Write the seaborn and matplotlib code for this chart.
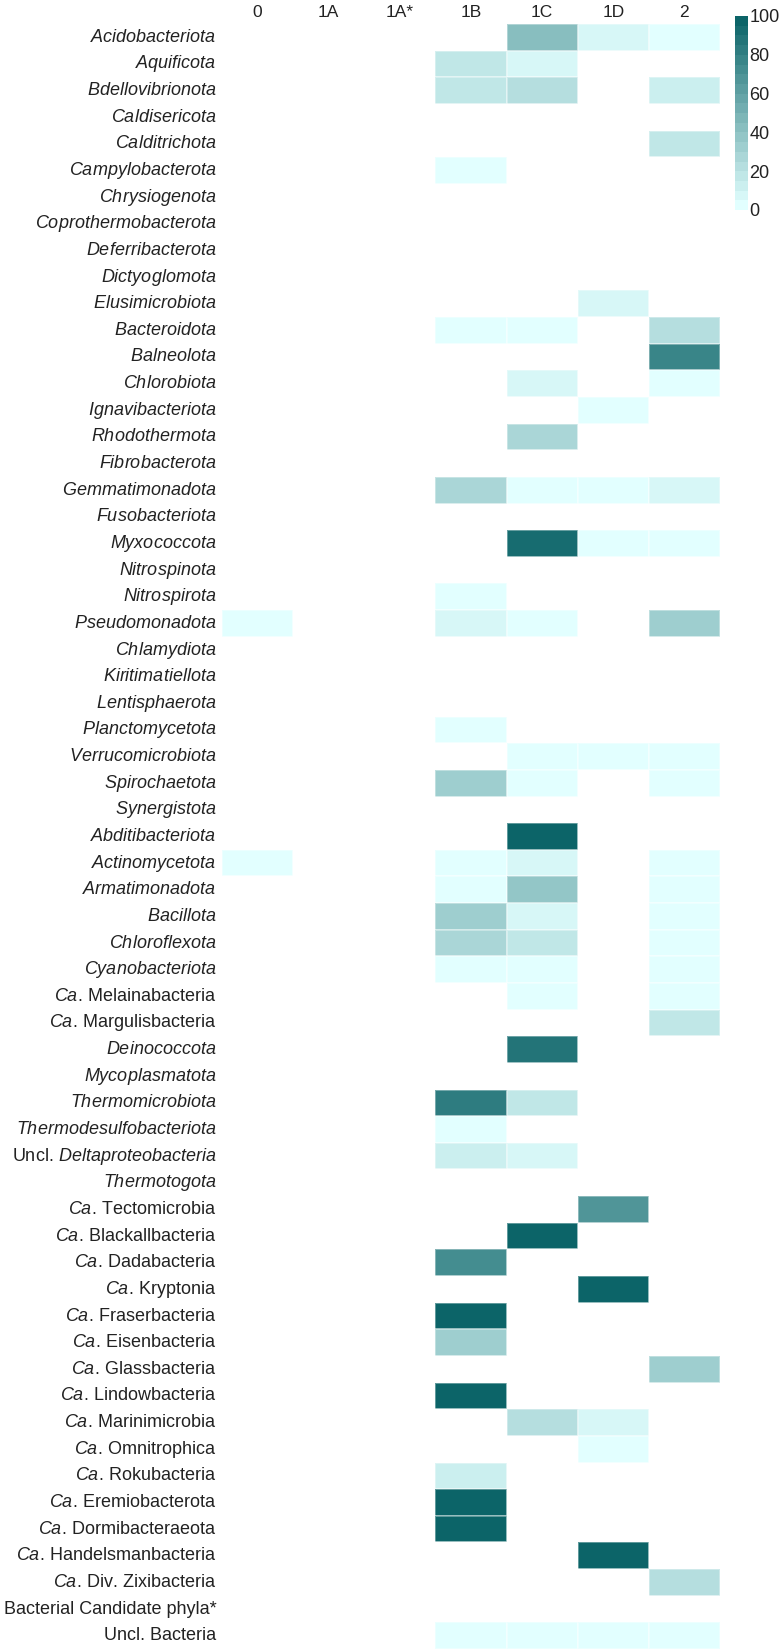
import re
import numpy as np
import pandas as pd
import matplotlib
matplotlib.use('Agg')
import matplotlib.pyplot as plt
from matplotlib.colors import LinearSegmentedColormap
import seaborn as sns

sns.set_style('white')
plt.rcParams['font.family'] = ['Liberation Sans', 'DejaVu Sans']
plt.rcParams['mathtext.fontset'] = 'custom'
plt.rcParams['mathtext.rm'] = 'Liberation Sans'
plt.rcParams['mathtext.it'] = 'Liberation Sans:italic'

# Phyla (rows); *...* marks the italic part of a name
phyla = [
    '*Acidobacteriota*', '*Aquificota*', '*Bdellovibrionota*', '*Caldisericota*',
    '*Calditrichota*', '*Campylobacterota*', '*Chrysiogenota*', '*Coprothermobacterota*',
    '*Deferribacterota*', '*Dictyoglomota*', '*Elusimicrobiota*', '*Bacteroidota*',
    '*Balneolota*', '*Chlorobiota*', '*Ignavibacteriota*', '*Rhodothermota*',
    '*Fibrobacterota*', '*Gemmatimonadota*', '*Fusobacteriota*', '*Myxococcota*',
    '*Nitrospinota*', '*Nitrospirota*', '*Pseudomonadota*', '*Chlamydiota*',
    '*Kiritimatiellota*', '*Lentisphaerota*', '*Planctomycetota*', '*Verrucomicrobiota*',
    '*Spirochaetota*', '*Synergistota*', '*Abditibacteriota*', '*Actinomycetota*',
    '*Armatimonadota*', '*Bacillota*', '*Chloroflexota*', '*Cyanobacteriota*',
    '*Ca*. Melainabacteria', '*Ca*. Margulisbacteria', '*Deinococcota*', '*Mycoplasmatota*',
    '*Thermomicrobiota*', '*Thermodesulfobacteriota*', 'Uncl. *Deltaproteobacteria*', '*Thermotogota*',
    '*Ca*. Tectomicrobia', '*Ca*. Blackallbacteria', '*Ca*. Dadabacteria', '*Ca*. Kryptonia',
    '*Ca*. Fraserbacteria', '*Ca*. Eisenbacteria', '*Ca*. Glassbacteria', '*Ca*. Lindowbacteria',
    '*Ca*. Marinimicrobia', '*Ca*. Omnitrophica', '*Ca*. Rokubacteria', '*Ca*. Eremiobacterota',
    '*Ca*. Dormibacteraeota', '*Ca*. Handelsmanbacteria', '*Ca*. Div. Zixibacteria',
    'Bacterial Candidate phyla*', 'Uncl. Bacteria',
]

groups = ['0', '1A', '1A*', '1B', '1C', '1D', '2']

# percentage per group, one value per phylum (0 = not present)
g0 = [0]*22 + [2] + [0]*8 + [2] + [0]*29
g1A = [0]*61
g1Astar = [0]*61
g1B = [0, 18, 18, 0, 0, 2, 0, 0, 0, 0,
       0, 2, 0, 0, 0, 0, 0, 27, 0, 0,
       0, 2, 8, 0, 0, 0, 2, 0, 33, 0,
       0, 2, 2, 33, 28, 2, 0, 0, 0, 0,
       83, 2, 12, 0, 0, 0, 73, 0, 100, 33,
       0, 100, 0, 0, 12, 100, 100, 0, 0, 0,
       2]
g1C = [40, 8, 22, 0, 0, 0, 0, 0, 0, 0,
       0, 2, 0, 8, 0, 27, 0, 2, 0, 90,
       0, 0, 2, 0, 0, 0, 0, 2, 2, 0,
       100, 8, 37, 8, 18, 2, 2, 0, 88, 0,
       18, 0, 8, 0, 0, 98, 0, 0, 0, 0,
       0, 0, 22, 0, 0, 0, 0, 0, 0, 0,
       2]
g1D = [8, 0, 0, 0, 0, 0, 0, 0, 0, 0,
       8, 0, 0, 0, 3, 0, 0, 2, 0, 2,
       0, 0, 0, 0, 0, 0, 0, 2, 0, 0,
       0, 0, 0, 0, 0, 0, 0, 0, 0, 0,
       0, 0, 0, 0, 68, 0, 0, 98, 0, 0,
       0, 0, 8, 2, 0, 0, 0, 100, 0, 0,
       2]
g2 = [2, 0, 12, 0, 18, 0, 0, 0, 0, 0,
      0, 22, 77, 3, 0, 0, 0, 8, 0, 2,
      0, 0, 33, 0, 0, 0, 0, 2, 2, 0,
      0, 2, 2, 2, 2, 2, 2, 18, 0, 0,
      0, 0, 0, 0, 0, 0, 0, 0, 0, 0,
      33, 0, 0, 0, 0, 0, 0, 0, 22, 0,
      2]


def to_mathtext(name):
    # turn *italic* parts into mathtext italics
    return re.sub(r'\*([^*]+)\*', lambda m: r'$\mathit{' + m.group(1).replace(' ', r'\ ') + '}$', name)


labels = [to_mathtext(p) if p.count('*') >= 2 else p for p in phyla]
df = pd.DataFrame(dict(zip(groups, [g0, g1A, g1Astar, g1B, g1C, g1D, g2])), index=labels, dtype=float)

cmap = LinearSegmentedColormap.from_list('teal', ['#e2ffff', '#0c6468'], N=20)

fig = plt.figure(figsize=(7.8, 16.52), dpi=100)
ax = fig.add_axes([222/780, 1 - 1649/1652, (720-222)/780, (1649-24)/1652])
cax = fig.add_axes([735/780, 1 - 210/1652, 13/780, (210-16)/1652])

sns.heatmap(df, mask=(df == 0), cmap=cmap, vmin=0, vmax=100, ax=ax, cbar_ax=cax,
            linewidths=0.3, linecolor=(1, 1, 1, 0.35),
            cbar_kws={'ticks': [0, 20, 40, 60, 80, 100]})

ax.xaxis.tick_top()
ax.set_xlabel('')
ax.set_ylabel('')
ax.tick_params(axis='both', length=0)
ax.tick_params(axis='x', labelsize=12.5, pad=3, colors='#222222')
ax.tick_params(axis='y', labelsize=13, pad=4, colors='#222222')
plt.setp(ax.get_xticklabels(), rotation=0)
plt.setp(ax.get_yticklabels(), rotation=0)

cbar = ax.collections[0].colorbar
cbar.outline.set_visible(False)
cbar.ax.tick_params(length=0, labelsize=13, pad=1, colors='#222222')

fig.savefig('out.png', dpi=100)
